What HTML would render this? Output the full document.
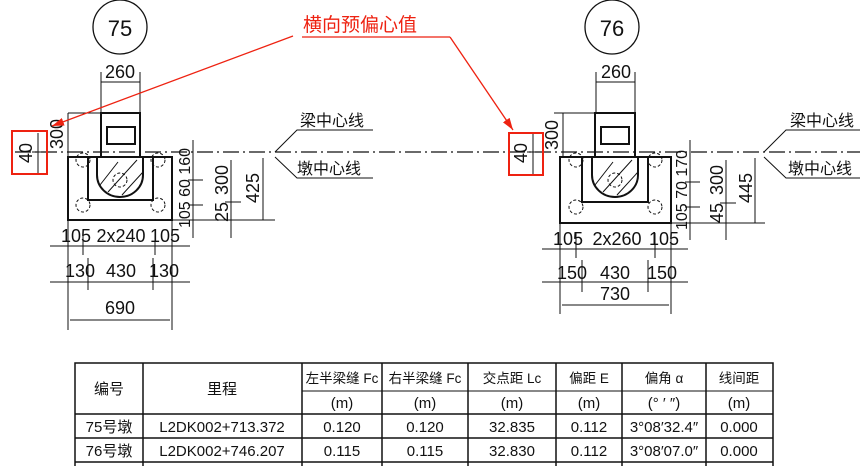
<!DOCTYPE html>
<html><head><meta charset="utf-8"><style>
html,body{margin:0;padding:0;background:#fff;width:865px;height:466px;overflow:hidden}
svg{display:block}
text{font-family:"Liberation Sans","Noto Sans CJK SC",sans-serif;fill:#111}
</style></head><body>
<svg width="865" height="466" viewBox="0 0 865 466" xmlns="http://www.w3.org/2000/svg">
<defs>
<marker id="rr" markerWidth="12" markerHeight="8" refX="12" refY="4" orient="auto" markerUnits="userSpaceOnUse"><path d="M0,0L12,4L0,8z" fill="#e21"/></marker>
</defs>
<line x1="15" y1="152" x2="860" y2="152" stroke="#111" stroke-width="1.2" stroke-dasharray="16,4,2,4"/>

<!-- LEFT PIER -->
<g stroke="#111" fill="none">
<circle cx="120" cy="27" r="27" stroke-width="1.3"/>
<line x1="101" y1="72" x2="101" y2="112"/><line x1="140" y1="72" x2="140" y2="112"/>
<line x1="101" y1="82" x2="140" y2="82"/>
<rect x="101" y="113" width="39" height="44" stroke-width="2"/>
<rect x="107" y="127" width="28" height="17" stroke-width="2"/>
<rect x="68" y="157" width="104" height="63" stroke-width="2"/>
<path d="M88,157V200H153V157" stroke-width="2"/>
<path d="M97,157V175A23,22 0 0 0 143,175V157" stroke-width="2"/>
<path d="M100,185L118,162M108,192L137,160M122,195L143,172" stroke-width="1"/>
<g stroke-dasharray="3,2"><circle cx="83" cy="160" r="7"/><circle cx="158" cy="160" r="7"/><circle cx="83" cy="205" r="7"/><circle cx="158" cy="205" r="7"/><circle cx="120" cy="180" r="7"/></g>
<line x1="68" y1="113" x2="100" y2="113"/><line x1="68" y1="113" x2="68" y2="157"/>
<line x1="38" y1="133" x2="38" y2="174"/><line x1="32" y1="152" x2="45" y2="152"/>
<line x1="172" y1="220" x2="275" y2="220"/>
<line x1="193" y1="140" x2="193" y2="238"/><line x1="188" y1="180" x2="203" y2="180"/><line x1="188" y1="205" x2="203" y2="205"/>
<line x1="231" y1="160" x2="231" y2="238"/><line x1="225" y1="202" x2="241" y2="202"/>
<line x1="263" y1="158" x2="263" y2="220"/>
<line x1="68" y1="220" x2="68" y2="330"/><line x1="172" y1="220" x2="172" y2="330"/>
<line x1="83" y1="230" x2="83" y2="255"/><line x1="155" y1="230" x2="155" y2="255"/>
<line x1="50" y1="246" x2="190" y2="246"/>
<line x1="88" y1="258" x2="88" y2="290"/><line x1="153" y1="258" x2="153" y2="290"/>
<line x1="50" y1="282" x2="190" y2="282"/>
<line x1="70" y1="320" x2="170" y2="320"/>
<path d="M275,152L297,130H373M275,157L297,178H373"/>
</g>
<g font-size="18">
<text x="120" y="36" text-anchor="middle" font-size="22">75</text>
<text x="120" y="78" text-anchor="middle">260</text>
<text x="76" y="242" text-anchor="middle">105</text>
<text x="121" y="242" text-anchor="middle">2x240</text>
<text x="165" y="242" text-anchor="middle">105</text>
<text x="80" y="277" text-anchor="middle">130</text>
<text x="121" y="277" text-anchor="middle">430</text>
<text x="164" y="277" text-anchor="middle">130</text>
<text x="120" y="314" text-anchor="middle">690</text>
<text x="300" y="126" font-size="16">梁中心线</text>
<text x="297" y="174" font-size="16">墩中心线</text>
<text transform="translate(63,134) rotate(-90)" text-anchor="middle">300</text>
<text transform="translate(32,153) rotate(-90)" text-anchor="middle">40</text>
<text transform="translate(190,188) rotate(-90)" text-anchor="middle" font-size="16">105 60 160</text>
<text transform="translate(228,180) rotate(-90)" text-anchor="middle">300</text>
<text transform="translate(228,212) rotate(-90)" text-anchor="middle">25</text>
<text transform="translate(259,188) rotate(-90)" text-anchor="middle">425</text>
</g>

<!-- RIGHT PIER -->
<g stroke="#111" fill="none">
<circle cx="612" cy="27" r="27" stroke-width="1.3"/>
<line x1="596" y1="72" x2="596" y2="112"/><line x1="635" y1="72" x2="635" y2="112"/>
<line x1="596" y1="82" x2="635" y2="82"/>
<rect x="595" y="113" width="40" height="44" stroke-width="2"/>
<rect x="601" y="127" width="28" height="17" stroke-width="2"/>
<rect x="560" y="157" width="111" height="66" stroke-width="2"/>
<path d="M582,157V202H648V157" stroke-width="2"/>
<path d="M592,157V175A23,22 0 0 0 638,175V157" stroke-width="2"/>
<path d="M595,185L613,162M603,192L632,160M617,195L638,172" stroke-width="1"/>
<g stroke-dasharray="3,2"><circle cx="576" cy="160" r="7"/><circle cx="655" cy="160" r="7"/><circle cx="576" cy="207" r="7"/><circle cx="655" cy="207" r="7"/><circle cx="615" cy="180" r="7"/></g>
<line x1="554" y1="113" x2="594" y2="113"/><line x1="563" y1="113" x2="563" y2="157"/>
<line x1="533" y1="133" x2="533" y2="174"/><line x1="527" y1="152" x2="540" y2="152"/>
<line x1="671" y1="223" x2="765" y2="223"/>
<line x1="690" y1="140" x2="690" y2="240"/><line x1="685" y1="182" x2="700" y2="182"/><line x1="685" y1="207" x2="700" y2="207"/>
<line x1="726" y1="160" x2="726" y2="240"/><line x1="720" y1="203" x2="736" y2="203"/>
<line x1="755" y1="158" x2="755" y2="223"/>
<line x1="560" y1="223" x2="560" y2="314"/><line x1="671" y1="223" x2="671" y2="314"/>
<line x1="576" y1="233" x2="576" y2="258"/><line x1="655" y1="233" x2="655" y2="258"/>
<line x1="542" y1="249" x2="688" y2="249"/>
<line x1="582" y1="260" x2="582" y2="292"/><line x1="648" y1="260" x2="648" y2="292"/>
<line x1="542" y1="282" x2="688" y2="282"/>
<line x1="562" y1="305" x2="669" y2="305"/>
<path d="M764,152L786,130H860M764,157L786,178H860"/>
</g>
<g font-size="18">
<text x="612" y="36" text-anchor="middle" font-size="22">76</text>
<text x="616" y="78" text-anchor="middle">260</text>
<text x="568" y="245" text-anchor="middle">105</text>
<text x="617" y="245" text-anchor="middle">2x260</text>
<text x="664" y="245" text-anchor="middle">105</text>
<text x="572" y="279" text-anchor="middle">150</text>
<text x="615" y="279" text-anchor="middle">430</text>
<text x="662" y="279" text-anchor="middle">150</text>
<text x="615" y="300" text-anchor="middle">730</text>
<text x="790" y="126" font-size="16">梁中心线</text>
<text x="788" y="174" font-size="16">墩中心线</text>
<text transform="translate(558,135) rotate(-90)" text-anchor="middle">300</text>
<text transform="translate(527,153) rotate(-90)" text-anchor="middle">40</text>
<text transform="translate(687,190) rotate(-90)" text-anchor="middle" font-size="16">105 70 170</text>
<text transform="translate(723,180) rotate(-90)" text-anchor="middle">300</text>
<text transform="translate(723,213) rotate(-90)" text-anchor="middle">45</text>
<text transform="translate(752,188) rotate(-90)" text-anchor="middle">445</text>
</g>

<!-- red annotation -->
<g stroke="#e21" fill="none" stroke-width="1.3">
<rect x="12" y="131" width="35" height="43" stroke-width="2"/>
<rect x="509" y="133" width="34" height="42" stroke-width="2"/>
<line x1="302" y1="37" x2="450" y2="37"/>
<line x1="293" y1="36" x2="52" y2="126" marker-end="url(#rr)"/>
<line x1="450" y1="37" x2="513" y2="130" marker-end="url(#rr)"/>
</g>
<text x="303" y="31" font-size="19" style="fill:#e21">横向预偏心值</text>

<!-- table -->
<g stroke="#111" stroke-width="1.5" fill="none">
<rect x="75" y="363" width="698" height="110"/>
<line x1="302" y1="391" x2="773" y2="391" stroke-width="1"/>
<line x1="75" y1="414" x2="773" y2="414"/>
<line x1="75" y1="438" x2="773" y2="438"/>
<line x1="75" y1="462" x2="773" y2="462"/>
<line x1="143" y1="363" x2="143" y2="466"/>
<line x1="302" y1="363" x2="302" y2="466"/>
<line x1="382" y1="363" x2="382" y2="466"/>
<line x1="468" y1="363" x2="468" y2="466"/>
<line x1="556" y1="363" x2="556" y2="466"/>
<line x1="622" y1="363" x2="622" y2="466"/>
<line x1="706" y1="363" x2="706" y2="466"/>
</g>
<g font-size="15" text-anchor="middle">
<text x="109" y="394">编号</text><text x="222" y="394">里程</text>
<g font-size="13.5"><text x="342" y="383">左半梁缝 Fc</text><text x="425" y="383">右半梁缝 Fc</text>
<text x="512" y="383">交点距 Lc</text><text x="589" y="383">偏距 E</text>
<text x="664" y="383">偏角 α</text><text x="739" y="383">线间距</text></g>
<text x="342" y="408">(m)</text><text x="425" y="408">(m)</text><text x="512" y="408">(m)</text>
<text x="589" y="408">(m)</text><text x="664" y="408">(° ′ ″)</text><text x="739" y="408">(m)</text>
<text x="109" y="432">75号墩</text><text x="222" y="432">L2DK002+713.372</text>
<text x="342" y="432">0.120</text><text x="425" y="432">0.120</text><text x="512" y="432">32.835</text>
<text x="589" y="432">0.112</text><text x="664" y="432">3°08′32.4″</text><text x="739" y="432">0.000</text>
<text x="109" y="456">76号墩</text><text x="222" y="456">L2DK002+746.207</text>
<text x="342" y="456">0.115</text><text x="425" y="456">0.115</text><text x="512" y="456">32.830</text>
<text x="589" y="456">0.112</text><text x="664" y="456">3°08′07.0″</text><text x="739" y="456">0.000</text>
</g>
</svg>
</body></html>
